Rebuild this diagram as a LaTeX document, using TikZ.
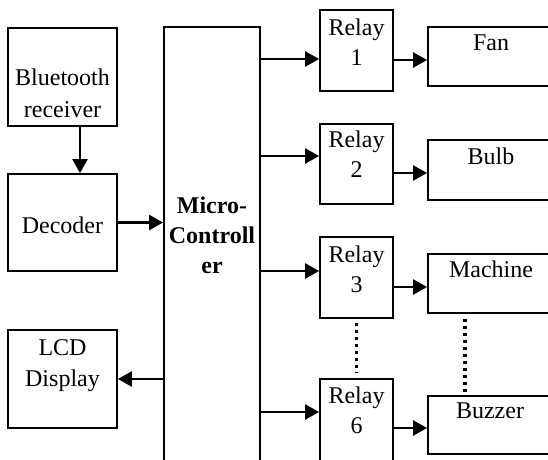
\documentclass[tikz,border=0pt]{standalone}
\usepackage{fontspec}
\setmainfont{Liberation Serif}
\usetikzlibrary{arrows.meta}
\begin{document}
\begin{tikzpicture}[x=1pt,y=-1pt,
 box/.style={draw,line width=1.8pt,inner sep=0pt,rectangle},
 txt/.style={inner sep=0pt,align=center,font=\fontsize{24}{30}\selectfont},
 arr/.style={line width=2.4pt,-{Triangle[length=14pt,width=15pt]}},
 dotline/.style={line width=3.2pt,dash pattern=on 3.5pt off 3.5pt}]
\useasboundingbox (0,0) rectangle (548,459);
\clip (0,0) rectangle (548,459);
% left boxes
\node[box,minimum width=109pt,minimum height=98pt] (bt) at (62.5,77) {};
\node[box,minimum width=109pt,minimum height=97pt] (dec) at (62.5,222.5) {};
\node[box,minimum width=109pt,minimum height=98pt] (lcd) at (62.5,379) {};
% micro
\node[box,minimum width=96pt,minimum height=473pt] (mc) at (212,263.5) {};
% relays
\node[box,minimum width=73pt,minimum height=81pt] (r1) at (356.5,50.5) {};
\node[box,minimum width=73pt,minimum height=80pt] (r2) at (356.5,164) {};
\node[box,minimum width=73pt,minimum height=81pt] (r3) at (356.5,277.5) {};
\node[box,minimum width=73pt,minimum height=101pt] (r6) at (356.5,429.5) {};
% devices
\node[box,minimum width=142pt,minimum height=59pt] (fan) at (499,56.5) {};
\node[box,minimum width=142pt,minimum height=60pt] (bulb) at (499,170) {};
\node[box,minimum width=142pt,minimum height=59pt] (mach) at (499,283.5) {};
\node[box,minimum width=142pt,minimum height=58pt] (buzz) at (499,425) {};
% texts
\node[txt,anchor=north,font=\fontsize{24}{32}\selectfont] (tbt) at (62.5,69) {Bluetooth\\receiver};
\node[txt,anchor=base] (tdec) at (62.5,233) {Decoder};
\node[txt,anchor=north,font=\fontsize{24}{31}\selectfont] (tlcd) at (62.5,339) {LCD\\Display};
\node[txt,anchor=north,font=\fontsize{24}{30}\selectfont\bfseries] (tmc) at (212,197) {Micro-\\Controll\\er};
\node[txt,anchor=north] (tr1) at (356.5,19) {Relay\\1};
\node[txt,anchor=north] (tr2) at (356.5,131) {Relay\\2};
\node[txt,anchor=north] (tr3) at (356.5,246) {Relay\\3};
\node[txt,anchor=north] (tr6) at (356.5,387) {Relay\\6};
\node[txt,anchor=base] (tfan) at (491,50) {Fan};
\node[txt,anchor=base] (tbulb) at (491,164) {Bulb};
\node[txt,anchor=base] (tmach) at (491,277) {Machine};
\node[txt,anchor=base] (tbuzz) at (490,418) {Buzzer};
% arrows left
\draw[arr] ([xshift=17.5pt]bt.south) -- ([xshift=17.5pt]dec.north);
\draw[arr] (dec.east) -- (dec.east -| mc.west);
\draw[arr] (lcd.east -| mc.west) -- (lcd.east);
% arrows to relays
\draw[arr] (mc.east |- 0,59) -- (r1.west |- 0,59);
\draw[arr] (mc.east |- 0,156) -- (r2.west |- 0,156);
\draw[arr] (mc.east |- 0,271) -- (r3.west |- 0,271);
\draw[arr] (mc.east |- 0,412) -- (r6.west |- 0,412);
% arrows to devices
\draw[arr] (r1.east |- 0,60) -- (fan.west |- 0,60);
\draw[arr] (r2.east |- 0,173) -- (bulb.west |- 0,173);
\draw[arr] (r3.east |- 0,287) -- (mach.west |- 0,287);
\draw[arr] (r6.east |- 0,428) -- (buzz.west |- 0,428);
% dotted
\draw[dotline] ([yshift=-4pt]r3.south) -- ([yshift=6pt]r6.north);
\draw[dotline] ([yshift=-5pt]mach.south -| 465,0) -- (buzz.north -| 465,0);
\end{tikzpicture}
\end{document}
